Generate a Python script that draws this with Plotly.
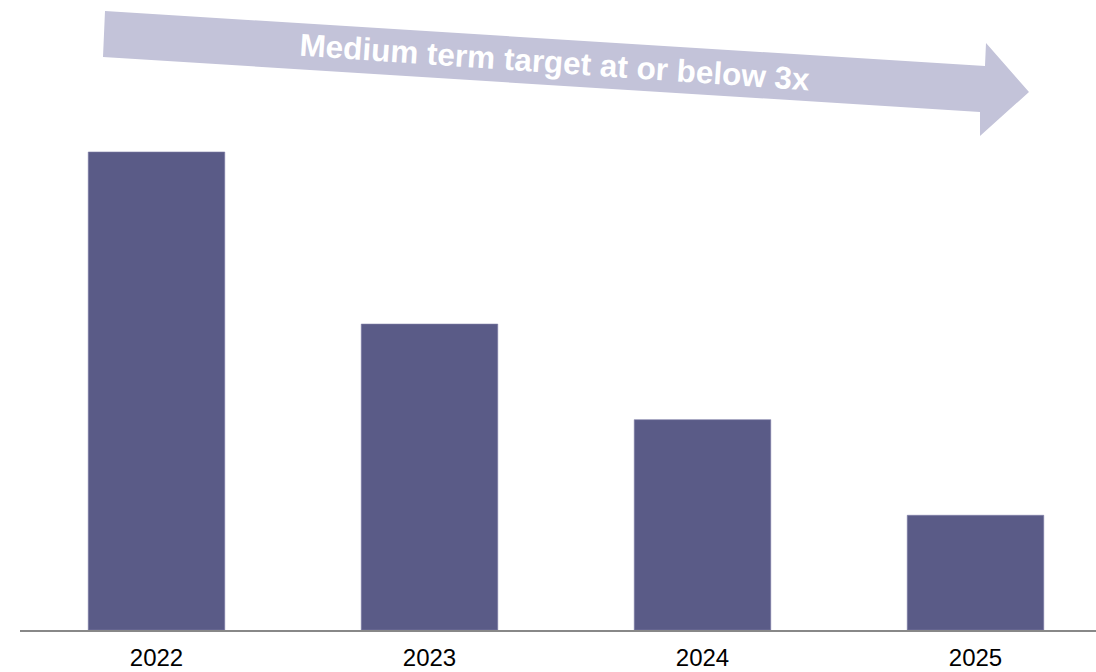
import plotly.graph_objects as go

# Net leverage path by year
years = ["2022", "2023", "2024", "2025"]
leverage = [5.0, 3.2, 2.2, 1.2]
target_label = "Medium term target at or below 3x"

BAR_COLOR = "#5A5B87"
ARROW_COLOR = "#C3C3D9"
AXIS_COLOR = "#888888"

W, H = 1096, 672
M_L, M_R, M_T, M_B = 20, 0, 0, 42
plot_w = W - M_L - M_R
plot_h = H - M_T - M_B


def to_paper(px, py):
    """Convert a page pixel position to paper coordinates."""
    return (px - M_L) / plot_w, (H - M_B - py) / plot_h


# Slanted banner arrow drawn across the top of the chart
arrow_pts = [(105, 11), (985, 66), (986, 43), (1029, 92),
             (980, 136), (980, 112), (103, 57)]
path = ""
for i, (px, py) in enumerate(arrow_pts):
    x, y = to_paper(px, py)
    path += ("M" if i == 0 else "L") + f"{x:.5f},{y:.5f} "
path += "Z"

fig = go.Figure(
    go.Bar(
        x=years,
        y=leverage,
        marker=dict(color=BAR_COLOR, line=dict(color="#7D7CA6", width=0.6)),
        hoverinfo="x+y",
    )
)

slots = plot_w / 273.0  # category slots visible across the plot width
fig.update_layout(
    width=W,
    height=H,
    margin=dict(l=M_L, r=M_R, t=M_T, b=M_B),
    paper_bgcolor="white",
    plot_bgcolor="white",
    bargap=0.5,
    showlegend=False,
    font=dict(family="Liberation Sans, Arial, sans-serif", color="#000000"),
    xaxis=dict(
        type="category",
        range=[-0.5, -0.5 + slots],
        showline=True,
        linecolor=AXIS_COLOR,
        linewidth=2,
        ticks="",
        showgrid=False,
        zeroline=False,
        automargin=False,
        tickfont=dict(size=24, color="#000000"),
        ticklabelstandoff=5,
        fixedrange=True,
    ),
    yaxis=dict(
        range=[0, 630 / 95.6],
        visible=False,
        showgrid=False,
        zeroline=False,
        automargin=False,
        fixedrange=True,
    ),
    shapes=[
        dict(
            type="path",
            path=path,
            xref="paper",
            yref="paper",
            fillcolor=ARROW_COLOR,
            line=dict(width=0),
            layer="below",
        )
    ],
)

tx, ty = to_paper(555, 62.5)
fig.add_annotation(
    x=tx,
    y=ty,
    xref="paper",
    yref="paper",
    text=f"<b>{target_label}</b>",
    showarrow=False,
    textangle=3.9,
    font=dict(size=31.5, color="white", family="Liberation Sans, Arial, sans-serif"),
    xanchor="center",
    yanchor="middle",
)

fig.write_html("out.html")
